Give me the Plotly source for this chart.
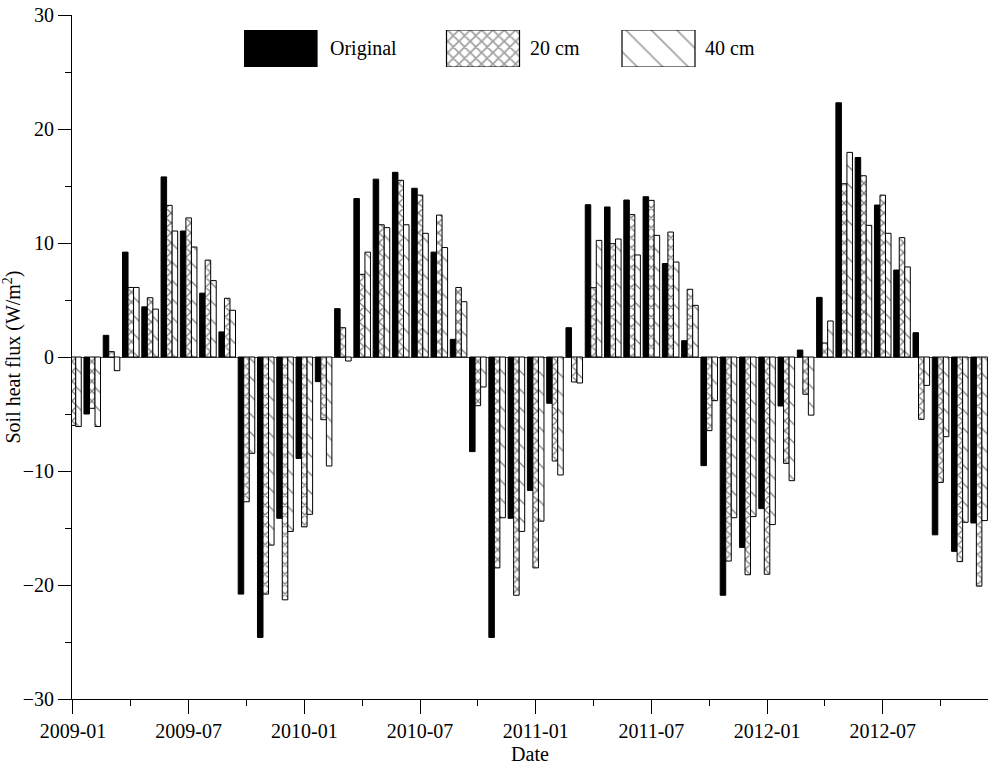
import plotly.graph_objects as go

# Monthly soil heat flux, Jan 2009 - Dec 2012 (month index 0..47)
months = list(range(48))

original = [-5.5, -5.0, 1.9, 9.2, 4.4, 15.8, 11.05, 5.6, 2.2, -20.8, -24.6, -14.15,
            -8.9, -2.16, 4.24, 13.9, 15.6, 16.2, 14.8, 9.2, 1.55, -8.3, -24.6, -14.15,
            -11.7, -4.06, 2.57, 13.36, 13.16, 13.77, 14.06, 8.2, 1.43, -9.53, -20.9, -16.7,
            -13.3, -4.3, 0.61, 5.23, 22.3, 17.5, 13.33, 7.63, 2.13, -15.6, -17.05, -14.56]

cm20 = [-6.0, -4.5, 0.47, 6.1, 5.2, 13.3, 12.2, 8.5, 5.15, -12.7, -20.8, -21.3,
        -14.9, -5.5, 2.57, 7.25, 11.6, 15.5, 14.2, 12.45, 6.1, -4.27, -18.5, -20.9,
        -18.5, -9.12, -2.19, 6.08, 9.94, 12.49, 13.74, 10.96, 5.94, -6.46, -17.9, -19.1,
        -19.06, -9.33, -3.27, 1.23, 15.2, 15.9, 14.2, 10.47, -5.47, -11.0, -17.95, -20.1]

cm40 = [-6.1, -6.1, -1.2, 6.1, 4.2, 11.05, 9.65, 6.7, 4.1, -8.45, -16.5, -15.3,
        -13.8, -9.56, -0.35, 9.2, 11.35, 11.6, 10.85, 9.6, 4.85, -2.63, -14.1, -15.3,
        -14.4, -10.35, -2.28, 10.23, 10.35, 8.95, 10.67, 8.33, 4.53, -3.83, -14.1, -14.0,
        -14.7, -10.85, -5.1, 3.16, 17.95, 11.55, 10.85, 7.9, -2.49, -6.99, -14.5, -14.35]

series_names = ["Original", "20 cm", "40 cm"]

tick_pos = [0, 6, 12, 18, 24, 30, 36, 42]
tick_labels = ["2009-01", "2009-07", "2010-01", "2010-07",
               "2011-01", "2011-07", "2012-01", "2012-07"]

FONT = "Liberation Serif, Times New Roman, serif"
OUTLINE = dict(color="black", width=1)

fig = go.Figure()
fig.add_trace(go.Bar(
    x=months, y=original, name=series_names[0],
    marker=dict(color="black", line=OUTLINE),
))
fig.add_trace(go.Bar(
    x=months, y=cm20, name=series_names[1],
    marker=dict(color="white", line=OUTLINE,
                pattern=dict(shape="x", fgcolor="black", bgcolor="white",
                             size=7, solidity=0.33)),
))
fig.add_trace(go.Bar(
    x=months, y=cm40, name=series_names[2],
    marker=dict(color="white", line=OUTLINE,
                pattern=dict(shape="\\", fgcolor="black", bgcolor="white",
                             size=13, solidity=0.1)),
))

# Key: large swatches drawn on a small hidden axis whose units are pixels
key_left, key_right = 244, 760          # pixel span of the key
key_top, key_bottom = 30, 67
plot_left, plot_right, plot_top, plot_bottom = 72, 988, 15, 699
swatch_centers = [280.5, 483, 658.5]
swatch_width = 73
label_x = [328, 528, 703]

fig.add_trace(go.Bar(
    x=swatch_centers, y=[1] * len(series_names), width=swatch_width,
    xaxis="x2", yaxis="y2", showlegend=False, hoverinfo="skip",
    marker=dict(color=["black", "white", "white"], line=dict(color="black", width=1.2),
                pattern=dict(shape=["", "x", "\\"], fgcolor="black", bgcolor="white",
                             size=[8, 8, 18], solidity=[0.4, 0.4, 0.09])),
))
for name, lx in zip(series_names, label_x):
    fig.add_annotation(x=lx, y=0.5, xref="x2", yref="y2", text=name,
                       showarrow=False, xanchor="left", yanchor="middle",
                       font=dict(family=FONT, size=20, color="black"))

pw = plot_right - plot_left
ph = plot_bottom - plot_top

fig.update_layout(
    width=988, height=766,
    margin=dict(l=plot_left, r=988 - plot_right, t=plot_top, b=766 - plot_bottom),
    paper_bgcolor="white", plot_bgcolor="white",
    barmode="group", bargap=0.14, bargroupgap=0,
    font=dict(family=FONT, size=20, color="black"),
    showlegend=False,
    xaxis=dict(
        range=[-0.05, 47.46], showgrid=False, zeroline=False,
        showline=True, linecolor="black", linewidth=1,
        tickmode="array", tickvals=tick_pos, ticktext=tick_labels,
        ticks="outside", ticklen=14, tickcolor="black",
        minor=dict(tickmode="linear", tick0=3, dtick=6, ticks="outside",
                   ticklen=6, tickcolor="black", showgrid=False),
        title=dict(text="Date", font=dict(family=FONT, size=20), standoff=5),
        tickfont=dict(family=FONT, size=20),
    ),
    yaxis=dict(
        range=[-30, 30], showgrid=False,
        zeroline=True, zerolinecolor="#444", zerolinewidth=1,
        showline=True, linecolor="black", linewidth=1,
        tickmode="linear", tick0=0, dtick=10,
        ticks="outside", ticklen=13, tickcolor="black",
        minor=dict(tickmode="linear", tick0=5, dtick=10, ticks="outside",
                   ticklen=6, tickcolor="black", showgrid=False),
        title=dict(text="Soil heat flux (W/m<sup>2</sup>)", font=dict(family=FONT, size=20),
                   standoff=2),
        tickfont=dict(family=FONT, size=20),
    ),
    xaxis2=dict(
        domain=[(key_left - plot_left) / pw, (key_right - plot_left) / pw],
        range=[key_left, key_right], anchor="y2", visible=False, fixedrange=True,
    ),
    yaxis2=dict(
        domain=[(plot_bottom - key_bottom) / ph, (plot_bottom - key_top) / ph],
        range=[0, 1], anchor="x2", visible=False, fixedrange=True,
    ),
)

fig.write_html("out.html")
